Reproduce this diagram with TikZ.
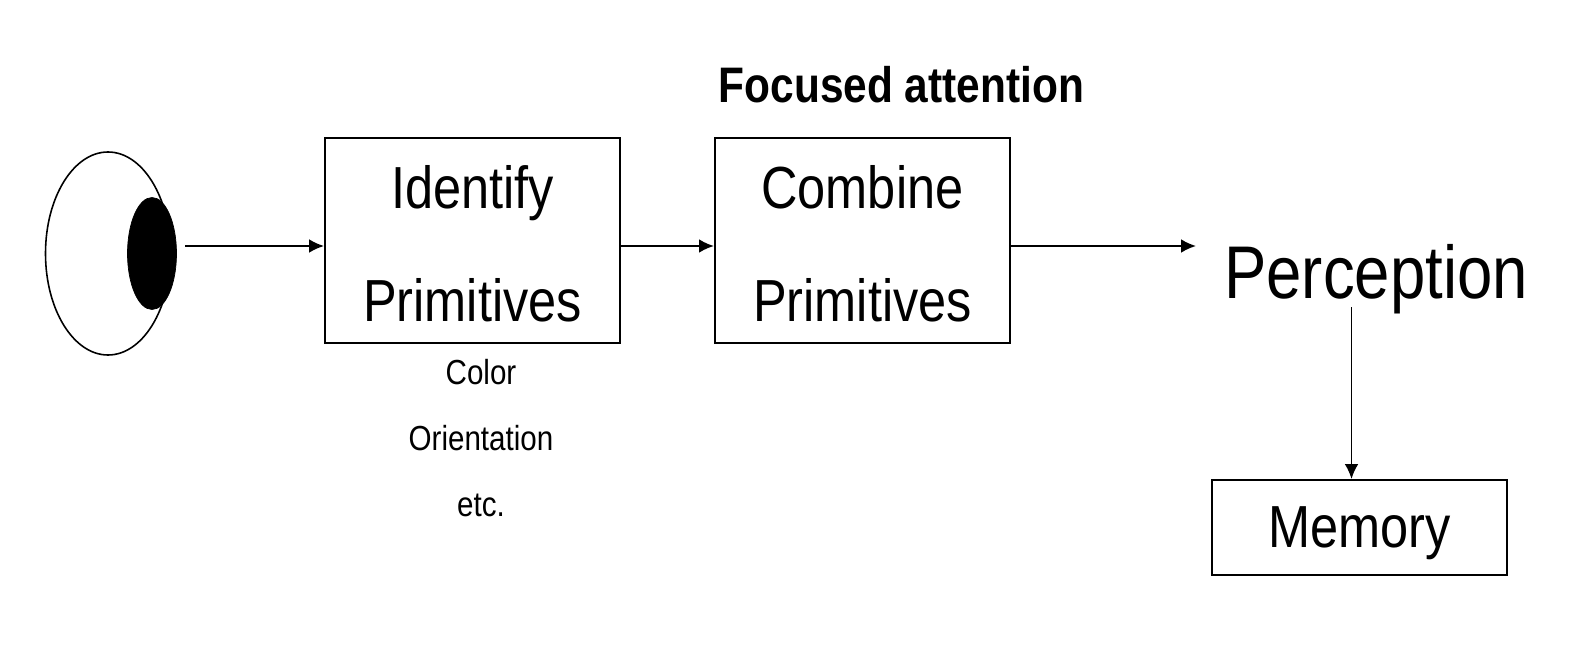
\documentclass[tikz,border=0pt]{standalone}
\usepackage{fontspec}
\setmainfont[FakeStretch=0.85]{Liberation Sans}
\usetikzlibrary{positioning}
\usetikzlibrary{shapes.geometric}
\usetikzlibrary{arrows.meta}

\begin{document}
\begin{tikzpicture}[node distance = 1.86cm,
						boxnode/.style={draw, line width=1.1pt, minimum width=5.9cm, align=center, inner sep=0pt},
						flow/.style={-{Latex[length=8.5pt,width=7.8pt]}, line width=1.1pt},
						every node/.style={font=\fontsize{33.8}{64}\selectfont}]
		\useasboundingbox (0,0) rectangle (31.92,13.24);
		% eye
		\node [draw, ellipse, line width=0.9pt, minimum width=2.5cm, minimum height=4.06cm, inner sep=0pt] (eye) at (2.16,8.17) {};
		\node [draw, ellipse, fill=black, minimum width=0.98cm, minimum height=2.24cm, inner sep=0pt] (pupil) at (3.04,8.17) {};
		\coordinate (eyeout) at (3.7,8.32);
		% boxes
		\node [boxnode, minimum height=4.1cm] (identify) at (9.45,8.43) {\rule{0pt}{28pt}Identify\\Primitives};
		\node [boxnode, minimum height=4.1cm, right=of identify] (combine) {\rule{0pt}{28pt}Combine\\Primitives};
		\node [above=0.55cm of combine.north west, anchor=south west, xshift=-0.03cm, font=\fontsize{28.4}{34}\selectfont\bfseries] (focused) {Focused attention};
		\node [below=0.18cm of identify.south, xshift=0.17cm, font=\fontsize{19.8}{37.7}\selectfont, align=center, anchor=north] (prims) {Color\\Orientation\\etc.};
		\node [font=\fontsize{42.5}{50}\selectfont] (perception) at (27.52,7.65) {Perception};
		\node [boxnode, minimum height=1.9cm, text depth=0pt] (memory) at (27.19,2.69) {Memory};
		\coordinate (percin) at (23.92,8.32);
		\coordinate (percout) at (27.03,7.1);
		% connectors
		\path [flow]
			(eyeout) edge [] (identify.west |- eyeout)
			(identify.east |- eyeout) edge [] (combine.west |- eyeout)
			(combine.east |- eyeout) edge [] (percin)
			(percout) edge [] (percout |- memory.north);
	\end{tikzpicture}
\end{document}
